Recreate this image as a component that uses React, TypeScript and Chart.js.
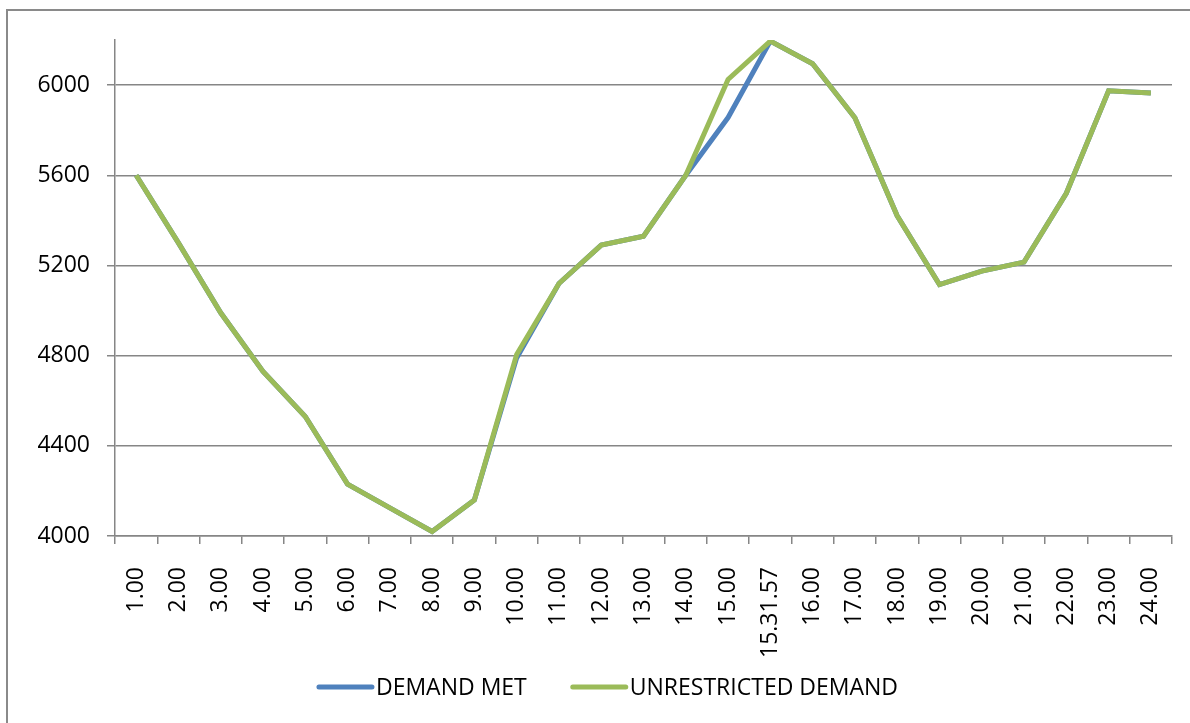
import React, { useEffect, useRef } from "react";
import { Chart, registerables } from "chart.js";

Chart.register(...registerables);

const categories = [
  "1.00", "2.00", "3.00", "4.00", "5.00", "6.00", "7.00", "8.00", "9.00", "10.00",
  "11.00", "12.00", "13.00", "14.00", "15.00", "15.31.57", "16.00", "17.00", "18.00",
  "19.00", "20.00", "21.00", "22.00", "23.00", "24.00",
];

const demandMet = [
  5600, 5300, 4990, 4730, 4530, 4230, 4125, 4020, 4160, 4790,
  5120, 5290, 5330, 5600, 5856, 6195, 6095, 5855, 5420,
  5115, 5175, 5215, 5520, 5975, 5965,
];

const unrestrictedDemand = [
  5600, 5300, 4990, 4730, 4530, 4230, 4125, 4020, 4160, 4805,
  5120, 5290, 5330, 5600, 6025, 6195, 6095, 5855, 5420,
  5115, 5175, 5215, 5520, 5975, 5965,
];

const seriesNames = ["DEMAND MET", "UNRESTRICTED DEMAND"];
const seriesColors = ["#4F81BD", "#9BBB59"];
const yTicks = [4000, 4400, 4800, 5200, 5600, 6000];
const yMin = 4000;
const yMax = 6200;

const FONT = "'Open Sans', 'Liberation Sans', sans-serif";
const FONT_SIZE = 23;
const GRID = "#868686";

const borderPlugin = {
  id: "outerBorder",
  beforeDraw(chart: any) {
    const ctx = chart.ctx;
    ctx.save();
    ctx.strokeStyle = "#8a8a8a";
    ctx.lineWidth = 2;
    ctx.strokeRect(7, 10, chart.width + 50, chart.height + 50);
    ctx.restore();
  },
};

const legendPlugin = {
  id: "customLegend",
  afterDraw(chart: any) {
    const ctx = chart.ctx;
    ctx.save();
    ctx.font = `${FONT_SIZE}px ${FONT}`;
    ctx.textBaseline = "middle";
    ctx.textAlign = "left";
    const lineLen = 57;
    const textGap = 2;
    const itemGap = 44;
    const widths = seriesNames.map((n) => ctx.measureText(n).width);
    const total =
      widths.reduce((a, w) => a + w + lineLen + textGap, 0) + itemGap * (seriesNames.length - 1);
    let x = 607.5 - total / 2;
    const y = 687;
    seriesNames.forEach((name, i) => {
      ctx.strokeStyle = seriesColors[i];
      ctx.lineWidth = 5;
      ctx.lineCap = "round";
      ctx.beginPath();
      ctx.moveTo(x + 2, y);
      ctx.lineTo(x + lineLen - 2, y);
      ctx.stroke();
      ctx.fillStyle = "#000";
      ctx.fillText(name, x + lineLen + textGap, y + 1);
      x += lineLen + textGap + widths[i] + itemGap;
    });
    ctx.restore();
  },
};

export default function App() {
  const canvasRef = useRef<HTMLCanvasElement | null>(null);

  useEffect(() => {
    document.body.style.margin = "0";
    document.body.style.overflow = "hidden";
    const canvas = canvasRef.current;
    if (!canvas) return;
    const chart = new Chart(canvas, {
      type: "line",
      data: {
        labels: categories,
        datasets: [
          {
            label: seriesNames[0],
            data: demandMet,
            borderColor: seriesColors[0],
            backgroundColor: seriesColors[0],
            borderWidth: 5,
            pointRadius: 0,
            tension: 0,
            order: 1,
          },
          {
            label: seriesNames[1],
            data: unrestrictedDemand,
            borderColor: seriesColors[1],
            backgroundColor: seriesColors[1],
            borderWidth: 5,
            pointRadius: 0,
            tension: 0,
            order: 0,
          },
        ],
      },
      options: {
        responsive: false,
        animation: false,
        devicePixelRatio: 1,
        layout: { padding: { left: 0, right: 18, top: 40, bottom: 57 } },
        plugins: {
          legend: { display: false },
          tooltip: { enabled: false },
        },
        scales: {
          x: {
            type: "category",
            offset: true,
            grid: {
              offset: true,
              drawOnChartArea: false,
              drawTicks: true,
              tickLength: 8,
              color: GRID,
              lineWidth: 1.5,
            },
            border: { display: true, color: GRID, width: 1.5 },
            ticks: {
              autoSkip: false,
              minRotation: 90,
              maxRotation: 90,
              padding: 23,
              color: "#000",
              font: { family: FONT, size: FONT_SIZE },
            },
            afterFit(scale: any) {
              scale.height = 130;
              scale.paddingLeft = 0;
              scale.paddingRight = 0;
            },
          },
          y: {
            type: "linear",
            min: yMin,
            max: yMax,
            afterBuildTicks(scale: any) {
              scale.ticks = yTicks.map((v) => ({ value: v }));
            },
            grid: {
              drawTicks: true,
              tickLength: 8,
              color: GRID,
              lineWidth: 1.5,
            },
            border: { display: true, color: GRID, width: 1.5 },
            ticks: {
              padding: 17,
              color: "#000",
              font: { family: FONT, size: FONT_SIZE },
              callback: (v: any) => String(v),
            },
            afterFit(scale: any) {
              scale.width = 115;
              scale.paddingTop = 0;
              scale.paddingBottom = 0;
            },
          },
        },
      },
      plugins: [borderPlugin, legendPlugin],
    });
    return () => chart.destroy();
  }, []);

  return (
    <div style={{ width: 1190, height: 723 }}>
      <canvas ref={canvasRef} width={1190} height={723} style={{ display: "block" }} />
    </div>
  );
}
